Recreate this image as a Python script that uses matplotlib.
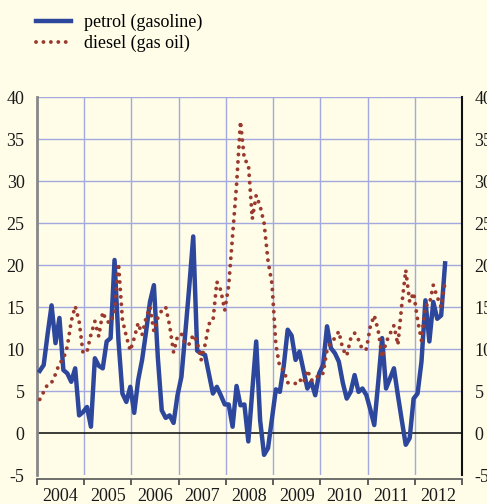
import numpy as np
import matplotlib
matplotlib.use('Agg')
import matplotlib.pyplot as plt

# monthly year-on-year % change, Jan 2004 .. Aug 2012
petrol = [7.4, 8.1, 11.8, 15.2, 10.7, 13.7, 7.5, 7.1, 6.1, 7.7,
          2.1, 2.5, 3.1, 0.75, 8.9, 8.0, 7.7, 10.9, 11.3, 20.6,
          11.0, 4.7, 3.7, 5.5, 2.4, 6.3, 8.7, 12.0, 15.6, 17.6,
          9.0, 2.7, 1.8, 2.1, 1.2, 4.5, 6.7, 12.0, 17.5, 23.4,
          9.8, 9.5, 9.3, 7.0, 4.7, 5.5, 4.5, 3.4, 3.4, 0.75,
          5.6, 3.3, 3.4, -1.0, 5.0, 10.9, 1.5, -2.6, -1.8, 1.7,
          5.2, 4.9, 8.0, 12.3, 11.6, 8.7, 9.7, 7.5, 5.3, 6.1,
          4.5, 7.1, 8.1, 12.7, 10.1, 9.5, 8.5, 6.0, 4.1, 4.9,
          6.9, 4.9, 5.3, 4.5, 2.8, 0.95, 6.0, 11.3, 5.3, 6.5,
          7.7, 4.5, 1.5, -1.4, -0.6, 4.1, 4.7, 8.5, 15.8, 10.9,
          15.6, 13.6, 14.0, 20.2]
diesel = [4.0, 4.9, 5.8, 6.0, 7.0, 8.3, 8.8, 10.3, 13.3, 15.1,
          13.3, 9.5, 9.7, 11.7, 13.3, 11.5, 14.4, 13.3, 13.1, 14.5,
          20.2, 13.5, 11.5, 9.8, 11.3, 13.1, 11.7, 13.7, 15.0, 12.1,
          13.7, 14.6, 15.0, 12.8, 9.6, 11.5, 11.8, 10.5, 10.6, 11.7,
          10.8, 8.7, 10.5, 13.0, 13.3, 18.0, 17.0, 14.6, 17.5, 23.5,
          29.5, 37.1, 32.5, 32.1, 25.5, 28.3, 27.0, 25.0, 20.5, 17.8,
          10.5, 7.8, 7.5, 6.0, 5.9, 5.9, 6.4, 5.9, 7.5, 6.3,
          6.3, 7.1, 7.1, 9.9, 10.8, 11.3, 12.1, 10.0, 9.2, 11.2,
          11.9, 11.1, 9.9, 10.0, 12.7, 14.0, 12.2, 9.0, 10.8, 11.8,
          12.8, 10.5, 15.3, 19.4, 15.6, 16.7, 13.5, 11.0, 15.2, 15.3,
          17.6, 16.2, 15.0, 18.0]
years = ['2004', '2005', '2006', '2007', '2008', '2009', '2010', '2011', '2012']
yticks = [-5, 0, 5, 10, 15, 20, 25, 30, 35, 40]

bg = '#fffde8'
grid_c = '#a3a8de'
plt.rcParams['font.family'] = ['Liberation Serif', 'DejaVu Serif']
plt.rcParams['font.size'] = 13
plt.rcParams['axes.unicode_minus'] = False

months = np.arange(len(petrol))
t = 2004 + (months + 0.7) / 12

fig = plt.figure(figsize=(4.87, 5.04), dpi=100, facecolor=bg)
ax = fig.add_axes([0.076, 0.0575, 0.8727, 0.75])
ax.set_facecolor(bg)

for v in yticks[2:]:
    ax.axhline(v, color=grid_c, lw=1.0, zorder=1)
for y in range(2005, 2013):
    ax.axvline(y, color=grid_c, lw=1.0, zorder=1)
ax.axhline(0, color='#1a1a1a', lw=1.2, zorder=2)

l1, = ax.plot(t, petrol, color='#2d479c', lw=3.2, solid_joinstyle='round', zorder=3,
              label='petrol (gasoline)')
l2, = ax.plot(t, diesel, color='#9a3a2f', lw=2.8, linestyle=(0, (0.01, 1.9)),
              dash_capstyle='round', zorder=4, label='diesel (gas oil)')

ax.set_xlim(2004, 2013)
ax.set_ylim(-5, 40)
ax.set_yticks(yticks)
ax.tick_params(axis='y', length=0, pad=9, labelright=True, labelcolor='#1a1a1a')
ax.set_xticks(range(2004, 2014))
ax.set_xticklabels([])
ax.set_xticks([int(y) + 0.5 for y in years], minor=True)
ax.set_xticklabels(years, minor=True)
ax.tick_params(axis='x', which='major', length=4, width=1.2, color='#444444', direction='out')
ax.tick_params(axis='x', which='minor', length=0, pad=6, labelcolor='#1a1a1a')

ax.spines['top'].set_visible(False)
ax.spines['left'].set_color('#888888')
ax.spines['left'].set_linewidth(2)
ax.spines['right'].set_color('#111111')
ax.spines['right'].set_linewidth(1.5)
ax.spines['bottom'].set_position(('outward', 3))
ax.spines['bottom'].set_color('#555555')
ax.spines['bottom'].set_linewidth(1.2)

fig.legend(handles=[l1, l2], loc='upper left', bbox_to_anchor=(0.04, 1.005),
           frameon=False, handlelength=1.95, handletextpad=0.7, labelspacing=0.2,
           fontsize=13)

fig.savefig('out.png', dpi=100, facecolor=bg)
